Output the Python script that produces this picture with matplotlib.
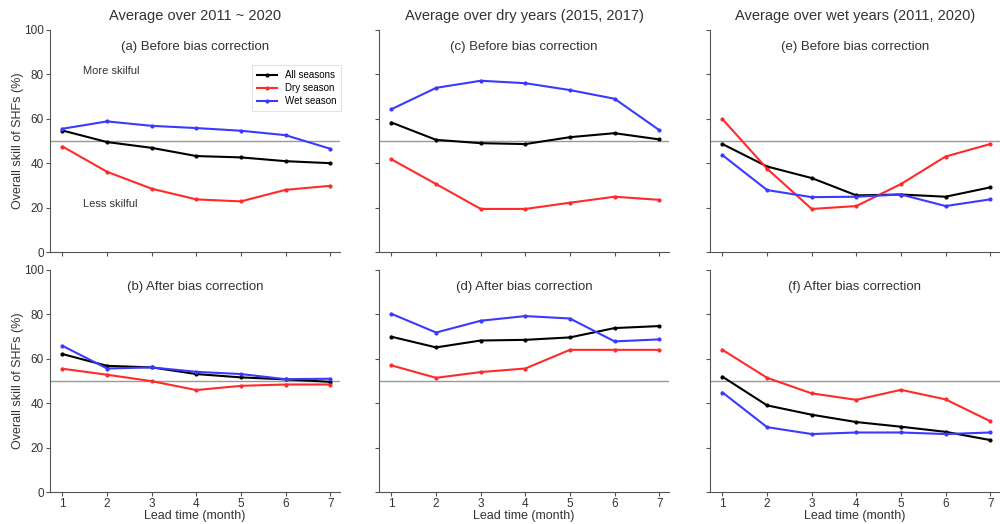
import numpy as np
import matplotlib
matplotlib.use("Agg")
import matplotlib.pyplot as plt

plt.rcParams['font.family'] = ['Liberation Sans', 'DejaVu Sans']

# -----------------------------
# Data (overall skill of SHFs, %)
# -----------------------------
lead = [1, 2, 3, 4, 5, 6, 7]

# (a) 2011-2020, before bias correction
a_all = [54.7, 49.5, 46.9, 43.2, 42.6, 40.9, 40.0]
a_dry = [47.5, 36.1, 28.5, 23.7, 22.8, 28.0, 29.8]
a_wet = [55.5, 58.8, 56.8, 55.8, 54.6, 52.6, 46.5]

# (b) 2011-2020, after bias correction
b_all = [62.1, 56.8, 56.1, 53.1, 51.6, 50.7, 49.6]
b_dry = [55.5, 52.8, 49.9, 45.9, 47.8, 48.4, 48.4]
b_wet = [65.8, 55.6, 56.1, 54.1, 53.1, 50.8, 51.0]

# (c) dry years, before bias correction
c_all = [58.3, 50.5, 49.0, 48.6, 51.7, 53.5, 50.7]
c_dry = [41.7, 30.6, 19.4, 19.4, 22.2, 24.9, 23.5]
c_wet = [64.3, 73.9, 77.1, 76.0, 72.9, 69.0, 54.9]

# (d) dry years, after bias correction
d_all = [69.9, 65.1, 68.2, 68.5, 69.6, 73.8, 74.7]
d_dry = [57.0, 51.4, 54.0, 55.6, 64.0, 64.0, 64.0]
d_wet = [80.2, 71.8, 77.1, 79.2, 78.1, 67.8, 68.7]

# (e) wet years, before bias correction
e_all = [48.6, 38.5, 33.3, 25.5, 25.9, 24.9, 29.1]
e_dry = [59.8, 37.5, 19.4, 20.7, 30.6, 43.0, 48.6]
e_wet = [43.6, 27.9, 24.7, 24.9, 25.9, 20.7, 23.7]

# (f) wet years, after bias correction
f_all = [51.9, 39.0, 34.8, 31.5, 29.4, 27.1, 23.4]
f_dry = [64.0, 51.4, 44.4, 41.5, 46.0, 41.7, 31.9]
f_wet = [44.8, 29.2, 26.1, 26.8, 26.8, 26.1, 26.8]

col_titles = ["Average over 2011 ~ 2020",
              "Average over dry years (2015, 2017)",
              "Average over wet years (2011, 2020)"]
panel_labels = [["(a) Before bias correction", "(c) Before bias correction", "(e) Before bias correction"],
                ["(b) After bias correction", "(d) After bias correction", "(f) After bias correction"]]
series = [[(a_all, a_dry, a_wet), (c_all, c_dry, c_wet), (e_all, e_dry, e_wet)],
          [(b_all, b_dry, b_wet), (d_all, d_dry, d_wet), (f_all, f_dry, f_wet)]]
names = ["All seasons", "Dry season", "Wet season"]
colors = ["black", "#ff2a2a", "#3a3aff"]

# -----------------------------
# Figure
# -----------------------------
fig = plt.figure(figsize=(10, 5.24), dpi=100)

lefts = [0.050, 0.379, 0.710]
width = 0.290
bottoms = [0.519, 0.061]
height = 0.424
txt = "#333333"

for r in range(2):
    for c in range(3):
        ax = fig.add_axes([lefts[c], bottoms[r], width, height])
        for vals, name, col in zip(series[r][c], names, colors):
            ax.plot(lead, vals, '-', marker='o', color=col, lw=1.5,
                    markersize=2, label=name)
        ax.axhline(50, color="#999999", lw=1.0, zorder=0)
        ax.set_xlim(0.72, 7.22)
        ax.set_ylim(0, 100)
        ax.set_xticks(lead)
        ax.set_yticks([0, 20, 40, 60, 80, 100])
        for s in ["top", "right"]:
            ax.spines[s].set_visible(False)
        for s in ["left", "bottom"]:
            ax.spines[s].set_color("#555555")
        ax.tick_params(colors="#555555", labelcolor=txt, labelsize=8.5,
                       length=3, pad=1.5)
        if c > 0:
            ax.set_yticklabels([])
        else:
            ax.set_ylabel("Overall skill of SHFs (%)", fontsize=9, color=txt,
                          labelpad=0)
        if r == 0:
            ax.set_xticklabels([])
            ax.set_title(col_titles[c], fontsize=10.5, color=txt, pad=7)
        else:
            ax.set_xlabel("Lead time (month)", fontsize=9, color=txt, labelpad=0)
        ax.text(0.5, 0.925, panel_labels[r][c], transform=ax.transAxes,
                ha="center", va="center", fontsize=9.5, color=txt)
        if r == 0 and c == 0:
            ax.text(1.47, 81.5, "More skilful", fontsize=8, color=txt, va="center")
            ax.text(1.47, 21.6, "Less skilful", fontsize=8, color=txt, va="center")
            leg = ax.legend(loc="upper right", bbox_to_anchor=(1.02, 0.862),
                            fontsize=7, frameon=True, fancybox=False,
                            numpoints=1, handlelength=2.0, borderpad=0.5,
                            labelspacing=0.3)
            leg.get_frame().set_edgecolor("#dddddd")
            leg.get_frame().set_linewidth(0.8)

fig.savefig("out.png", dpi=100)
